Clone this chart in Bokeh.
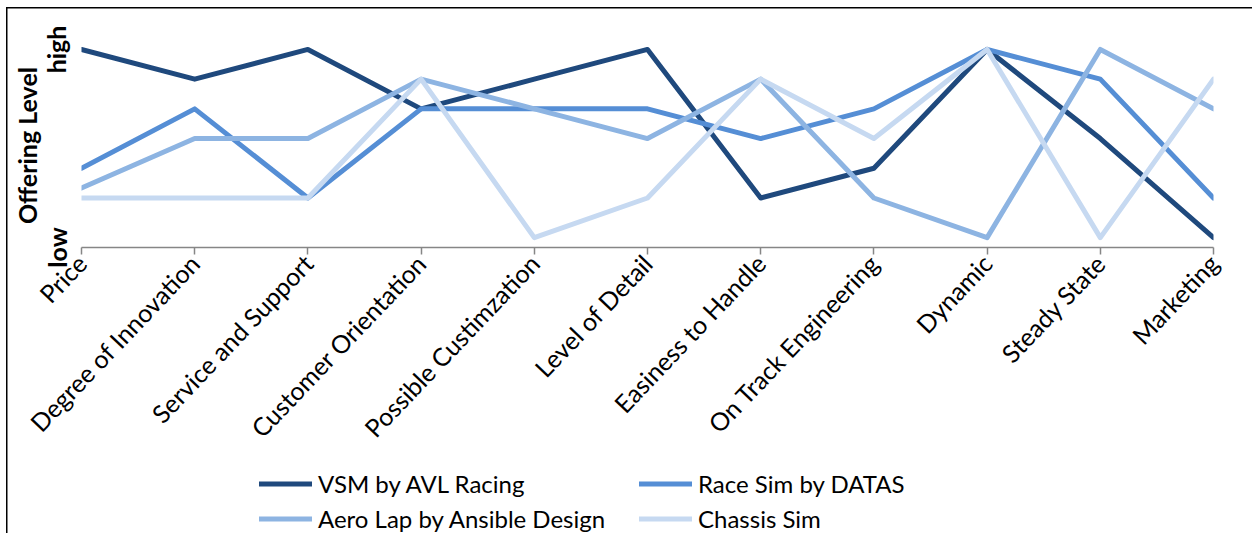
from bokeh.plotting import figure
from bokeh.models import FixedTicker, Range1d, Legend, LegendItem
from bokeh.layouts import column
from bokeh.embed import file_html
from bokeh.resources import INLINE

# Criteria along the x axis
categories = [
    "Price", "Degree of Innovation", "Service and Support", "Customer Orientation",
    "Possible Custimzation", "Level of Detail", "Easiness to Handle",
    "On Track Engineering", "Dynamic", "Steady State", "Marketing",
]

# Offering level per tool (0 = low, 10 = high)
vsm_avl = [10, 8.5, 10, 7, 8.5, 10, 2.5, 4, 10, 5.5, 0.5]
race_sim_datas = [4, 7, 2.5, 7, 7, 7, 5.5, 7, 10, 8.5, 2.5]
aero_lap_ansible = [3, 5.5, 5.5, 8.5, 7, 5.5, 8.5, 2.5, 0.5, 10, 7]
chassis_sim = [2.5, 2.5, 2.5, 8.5, 0.5, 2.5, 8.5, 5.5, 10, 0.5, 8.5]

series_names = ["VSM by AVL Racing", "Race Sim by DATAS",
                "Aero Lap by Ansible Design", "Chassis Sim"]
series_values = [vsm_avl, race_sim_datas, aero_lap_ansible, chassis_sim]
series_colors = ["#1F497D", "#558ED5", "#8DB4E2", "#C6D9F1"]

y_ticks = [0, 10]
y_tick_labels = ["low", "high"]

FONT = "Lato"
LINE_W = 5

x = list(range(len(categories)))

p = figure(
    width=1252, height=463,
    x_range=Range1d(0, len(categories) - 1),
    y_range=Range1d(0, 10.3),
    output_backend="svg", toolbar_location=None,
    min_border_left=81, min_border_right=39,
    min_border_top=43, min_border_bottom=216,
)
p.border_fill_color = None
p.background_fill_color = None
p.outline_line_color = None
p.grid.visible = False

for vals, col in zip(series_values, series_colors):
    p.line(x, vals, line_color=col, line_width=LINE_W,
           line_join="round", line_cap="round")

# x axis: categories sit on the tick marks
xa = p.xaxis[0]
xa.ticker = FixedTicker(ticks=x)
xa.major_label_overrides = {i: c for i, c in zip(x, categories)}
xa.major_label_orientation = 0.81
xa.major_label_text_font = FONT
xa.major_label_text_font_size = "25px"
xa.major_label_text_color = "#000000"
xa.major_label_standoff = 4
xa.axis_line_color = "#868686"
xa.axis_line_width = 1.5
xa.major_tick_line_color = "#868686"
xa.major_tick_line_width = 1.5
xa.major_tick_in = 0
xa.major_tick_out = 7
xa.minor_tick_line_color = None

# y axis: only the two end labels
ya = p.yaxis[0]
ya.ticker = FixedTicker(ticks=y_ticks)
ya.major_label_overrides = {t: l for t, l in zip(y_ticks, y_tick_labels)}
ya.major_label_orientation = "vertical"
ya.major_label_text_font = FONT
ya.major_label_text_font_style = "bold"
ya.major_label_text_font_size = "25px"
ya.major_label_text_color = "#000000"
ya.major_label_standoff = 4
ya.axis_line_color = None
ya.major_tick_line_color = None
ya.minor_tick_line_color = None
ya.axis_label = "Offering Level"
ya.axis_label_text_font = FONT
ya.axis_label_text_font_style = "bold"
ya.axis_label_text_font_size = "25px"
ya.axis_label_text_color = "#000000"
ya.axis_label_standoff = -3

# legend strip underneath the chart (its own lines stay outside the view)
lg = figure(
    width=1252, height=70,
    x_range=Range1d(100, 101), y_range=Range1d(100, 101),
    x_axis_location=None, y_axis_location=None,
    output_backend="svg", toolbar_location=None,
    min_border=0,
)
lg.grid.visible = False
lg.outline_line_color = None
lg.border_fill_color = None
lg.background_fill_color = None

keys = []
for name, vals, col in zip(series_names, series_values, series_colors):
    r = lg.line(x, vals, line_color=col, line_width=LINE_W, line_cap="round")
    keys.append(LegendItem(label=name, renderers=[r]))

legend = Legend(
    items=keys,
    orientation="horizontal", ncols=2,
    location=(178, 0),
    glyph_width=53, glyph_height=29, label_height=29,
    label_width=315, label_standoff=6, spacing=6,
    label_text_font=FONT, label_text_font_size="24px",
    label_text_color="#000000",
    border_line_color=None, background_fill_alpha=0,
    padding=0, margin=0,
)
lg.add_layout(legend, "center")

page = column(p, lg, spacing=0)
page.styles = {
    "background": (
        "linear-gradient(#000,#000) 6px 7px / 1.5px 526px no-repeat, "
        "linear-gradient(#000,#000) 6px 7px / 1246px 1.5px no-repeat, #fff"
    )
}

open("out.html", "w").write(file_html(page, INLINE))
